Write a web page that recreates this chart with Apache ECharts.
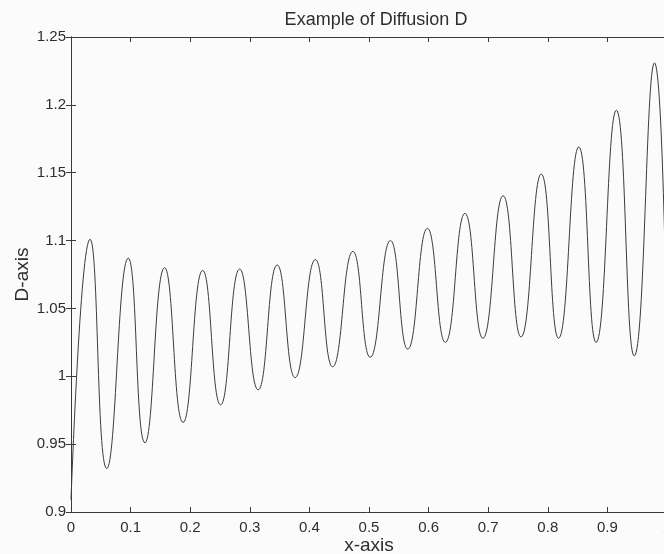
<!DOCTYPE html>
<html>
<head>
<meta charset="utf-8">
<script src="https://cdn.jsdelivr.net/npm/echarts@6/dist/echarts.min.js"></script>
<style>
  html, body { margin: 0; padding: 0; background: #fbfbfb; }
  #chart { width: 664px; height: 554px; }
</style>
</head>
<body>
<div id="chart"></div>
<script>
// start point, then peaks and troughs
var xVals = [0, 0.032, 0.060, 0.096, 0.124, 0.157, 0.188, 0.221, 0.251, 0.283, 0.314,
  0.346, 0.376, 0.410, 0.439, 0.473, 0.502, 0.536, 0.565, 0.598, 0.628, 0.661, 0.691,
  0.725, 0.755, 0.789, 0.818, 0.852, 0.881, 0.915, 0.945, 0.979, 1];
var dVals = [0.909, 1.101, 0.932, 1.087, 0.951, 1.080, 0.966, 1.078, 0.979, 1.079, 0.990,
  1.082, 0.999, 1.086, 1.007, 1.092, 1.014, 1.100, 1.020, 1.109, 1.025, 1.120, 1.028,
  1.133, 1.029, 1.149, 1.028, 1.169, 1.025, 1.196, 1.015, 1.231, 1.02];

var xTicks = [0, 0.1, 0.2, 0.3, 0.4, 0.5, 0.6, 0.7, 0.8, 0.9, 1];
var yTicks = [0.9, 0.95, 1, 1.05, 1.1, 1.15, 1.2, 1.25];

var pts = xVals.map(function (x, i) { return [x, dVals[i]]; });

var fontFam = "'Liberation Sans', Arial, sans-serif";
var axisCol = "#3a3a3a";
var textCol = "#2e2e2e";

var chart = echarts.init(document.getElementById("chart"));
chart.setOption({
  backgroundColor: "#fbfbfb",
  animation: false,
  title: {
    text: "Example of Diffusion D",
    left: 371,
    textAlign: "center",
    top: 6,
    textStyle: { fontFamily: fontFam, fontSize: 18, fontWeight: "normal", color: textCol }
  },
  grid: { left: 71, right: -3, top: 37, bottom: 42, outerBoundsMode: "none", containLabel: false },
  xAxis: [
    {
      type: "value",
      min: xTicks[0],
      max: xTicks[xTicks.length - 1],
      interval: 0.1,
      name: "x-axis",
      nameLocation: "middle",
      nameGap: 24,
      nameMoveOverlap: false,
      nameTextStyle: { fontFamily: fontFam, fontSize: 19, color: textCol },
      axisLine: { lineStyle: { color: axisCol, width: 1 } },
      axisTick: { inside: true, length: 5, lineStyle: { color: axisCol } },
      axisLabel: { fontFamily: fontFam, fontSize: 15, color: textCol, margin: 8 },
      splitLine: { show: false }
    },
    {
      type: "value",
      position: "top",
      min: xTicks[0],
      max: xTicks[xTicks.length - 1],
      interval: 0.1,
      axisLine: { lineStyle: { color: axisCol, width: 1 } },
      axisTick: { inside: true, length: 5, lineStyle: { color: axisCol } },
      axisLabel: { show: false },
      splitLine: { show: false }
    }
  ],
  yAxis: [
    {
      type: "value",
      min: yTicks[0],
      max: yTicks[yTicks.length - 1],
      interval: 0.05,
      name: "D-axis",
      nameLocation: "middle",
      nameGap: 39,
      nameMoveOverlap: false,
      nameTextStyle: { fontFamily: fontFam, fontSize: 19, color: textCol },
      axisLine: { show: true, lineStyle: { color: axisCol, width: 1 } },
      axisTick: { show: true, inside: true, length: 5, lineStyle: { color: axisCol } },
      axisLabel: { fontFamily: fontFam, fontSize: 15, color: textCol, margin: 5 },
      splitLine: { show: false }
    },
    {
      type: "value",
      position: "right",
      min: yTicks[0],
      max: yTicks[yTicks.length - 1],
      interval: 0.05,
      axisLine: { show: true, lineStyle: { color: axisCol, width: 1 } },
      axisTick: { show: true, inside: true, length: 5, lineStyle: { color: axisCol } },
      axisLabel: { show: false },
      splitLine: { show: false }
    }
  ],
  series: [
    {
      type: "line",
      data: pts,
      smooth: 0.5,
      showSymbol: false,
      lineStyle: { color: "#3c3c3c", width: 1 }
    }
  ]
});
</script>
</body>
</html>
